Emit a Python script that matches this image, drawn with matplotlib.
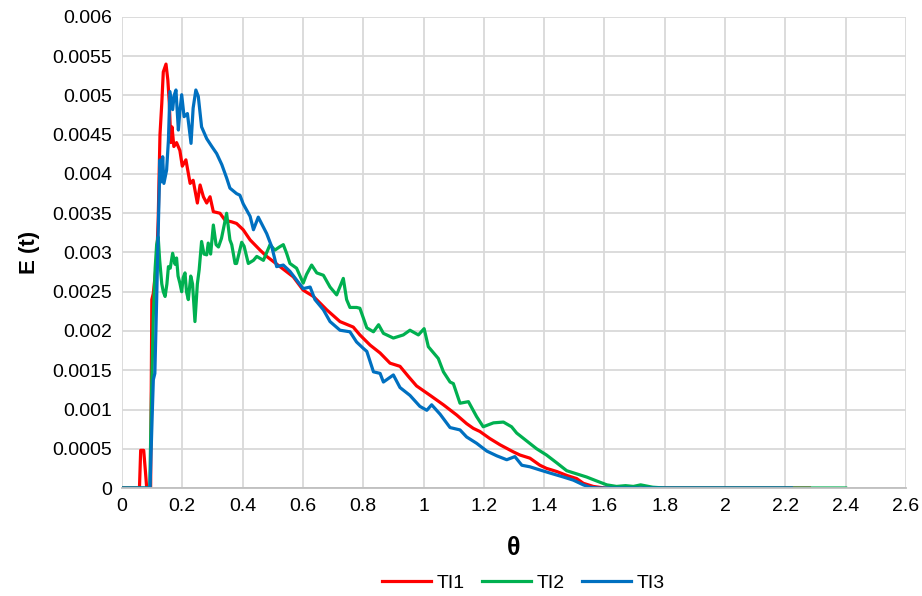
import matplotlib.pyplot as plt
from matplotlib.ticker import MultipleLocator, FuncFormatter

plt.rcParams['font.family'] = ['Liberation Sans', 'DejaVu Sans']

# TI1
x_ti1 = [0, 0.058, 0.062, 0.072, 0.078, 0.082, 0.095, 0.099, 0.104, 0.115, 0.12, 0.126,
         0.132, 0.137, 0.146, 0.152, 0.157, 0.162, 0.166, 0.172, 0.181, 0.192, 0.2, 0.212,
         0.226, 0.236, 0.25, 0.259, 0.27, 0.281, 0.292, 0.303, 0.325, 0.342, 0.364, 0.38,
         0.402, 0.425, 0.458, 0.48, 0.524, 0.568, 0.601, 0.635, 0.679, 0.723, 0.767, 0.789,
         0.823, 0.856, 0.889, 0.922, 0.95, 0.977, 1.022, 1.066, 1.11, 1.143, 1.165, 1.187,
         1.22, 1.254, 1.298, 1.32, 1.353, 1.386, 1.408, 1.442, 1.475, 1.508, 1.53, 1.563,
         1.6, 2.28]
y_ti1 = [0, 0, 0.00048, 0.00048, 0.0002, 0, 0, 0.0024, 0.00248, 0.0029, 0.0034, 0.0045,
         0.0049, 0.0053, 0.0054, 0.0052, 0.0049, 0.0044, 0.0046, 0.00435, 0.0044, 0.0043, 0.0041, 0.00418,
         0.00388, 0.00392, 0.00363, 0.00386, 0.00371, 0.00363, 0.00371, 0.00352, 0.0035, 0.00341, 0.00339, 0.00337,
         0.00329, 0.00316, 0.00303, 0.00295, 0.00282, 0.00269, 0.00252, 0.00244, 0.00227, 0.00212, 0.00205, 0.00195,
         0.00182, 0.00172, 0.00159, 0.00155, 0.00142, 0.0013, 0.00118, 0.00106, 0.00093, 0.00082, 0.00076, 0.00072,
         0.00063, 0.00055, 0.00046, 0.00042, 0.00038, 0.00029, 0.00025, 0.00021, 0.00016, 0.00012, 0.00006, 0.00002,
         0, 0]

# TI2
x_ti2 = [0, 0.092, 0.098, 0.104, 0.11, 0.115, 0.12, 0.125, 0.132, 0.137, 0.143, 0.149,
         0.154, 0.16, 0.168, 0.176, 0.181, 0.186, 0.192, 0.198, 0.203, 0.209, 0.214, 0.22,
         0.228, 0.234, 0.242, 0.25, 0.256, 0.264, 0.272, 0.281, 0.286, 0.294, 0.303, 0.312,
         0.32, 0.33, 0.347, 0.358, 0.364, 0.375, 0.38, 0.397, 0.405, 0.419, 0.436, 0.447,
         0.469, 0.491, 0.507, 0.522, 0.535, 0.546, 0.557, 0.579, 0.601, 0.612, 0.629, 0.646,
         0.668, 0.69, 0.712, 0.734, 0.745, 0.756, 0.778, 0.789, 0.812, 0.834, 0.851, 0.867,
         0.9, 0.933, 0.955, 0.983, 1.002, 1.016, 1.049, 1.066, 1.088, 1.099, 1.121, 1.149,
         1.176, 1.198, 1.232, 1.265, 1.292, 1.309, 1.342, 1.375, 1.408, 1.442, 1.475, 1.508,
         1.541, 1.574, 1.608, 1.64, 1.67, 1.696, 1.72, 1.76, 1.8, 2.4]
y_ti2 = [0, 0, 0.0012, 0.0022, 0.0028, 0.0031, 0.0032, 0.0029, 0.0026, 0.0025, 0.00244, 0.0026,
         0.00282, 0.0028, 0.00299, 0.00285, 0.00293, 0.0027, 0.00261, 0.0025, 0.00268, 0.00274, 0.0025, 0.0024,
         0.0027, 0.0026, 0.00212, 0.0026, 0.00278, 0.00314, 0.00298, 0.00297, 0.00312, 0.00298, 0.00335, 0.0031,
         0.00307, 0.00318, 0.0035, 0.00316, 0.0031, 0.00286, 0.00286, 0.00313, 0.00308, 0.00286, 0.0029, 0.00295,
         0.0029, 0.0031, 0.00303, 0.00307, 0.0031, 0.00299, 0.00286, 0.0028, 0.00261, 0.00272, 0.00284, 0.00274,
         0.00271, 0.00256, 0.00246, 0.00267, 0.0024, 0.0023, 0.0023, 0.00229, 0.00204, 0.00199, 0.00208, 0.00197,
         0.00191, 0.00195, 0.00201, 0.00195, 0.00203, 0.0018, 0.00165, 0.00148, 0.00135, 0.00133, 0.00108, 0.0011,
         0.00091, 0.00078, 0.00083, 0.00084, 0.00078, 0.0007, 0.0006, 0.0005, 0.00042, 0.00032, 0.00022, 0.00018,
         0.00014, 0.00009, 0.00004, 0.00002, 0.00003, 0.00002, 0.00004, 0.00001, 0, 0]

# TI3
x_ti3 = [0, 0.093, 0.1, 0.104, 0.109, 0.115, 0.12, 0.126, 0.131, 0.135, 0.139, 0.148,
         0.154, 0.159, 0.168, 0.173, 0.179, 0.187, 0.192, 0.198, 0.206, 0.217, 0.229, 0.236,
         0.245, 0.253, 0.264, 0.281, 0.298, 0.314, 0.331, 0.347, 0.358, 0.38, 0.391, 0.402,
         0.425, 0.436, 0.452, 0.48, 0.497, 0.513, 0.535, 0.557, 0.579, 0.601, 0.624, 0.64,
         0.668, 0.69, 0.723, 0.756, 0.778, 0.8, 0.812, 0.834, 0.856, 0.867, 0.9, 0.922,
         0.955, 0.988, 1.011, 1.027, 1.055, 1.088, 1.121, 1.143, 1.176, 1.21, 1.243, 1.276,
         1.303, 1.326, 1.353, 1.386, 1.42, 1.464, 1.497, 1.53, 1.552, 1.58, 2.22]
y_ti3 = [0, 0, 0.0009, 0.00138, 0.00146, 0.0024, 0.00325, 0.00418, 0.0039, 0.00422, 0.00388, 0.00405,
         0.00443, 0.00505, 0.00482, 0.005, 0.00507, 0.00456, 0.0048, 0.00501, 0.00473, 0.00477, 0.00439, 0.00484,
         0.00507, 0.00499, 0.0046, 0.00445, 0.00435, 0.00426, 0.00412, 0.00395, 0.00382, 0.00375, 0.00373, 0.00362,
         0.00346, 0.00329, 0.00345, 0.00324, 0.00307, 0.00282, 0.00284, 0.00276, 0.00265, 0.00254, 0.00256, 0.0024,
         0.00227, 0.00212, 0.00201, 0.00199, 0.00186, 0.00178, 0.00174, 0.00148, 0.00146, 0.00135, 0.00144, 0.00128,
         0.00118, 0.00104, 0.00099, 0.00106, 0.00094, 0.00077, 0.00074, 0.00065, 0.00057, 0.00047, 0.00041, 0.00036,
         0.0004, 0.00029, 0.00027, 0.00023, 0.00019, 0.00014, 0.0001, 0.00004, 0.00001, 0, 0]

fig = plt.figure(figsize=(9.22, 5.96), dpi=100)
ax = fig.add_axes([0.1323, 0.1812, 0.8503, 0.7903])

ax.plot(x_ti1, y_ti1, color='#FF0000', lw=2.3, label='TI1')
ax.plot(x_ti2, y_ti2, color='#00B050', lw=2.3, label='TI2')
ax.plot(x_ti3, y_ti3, color='#0070C0', lw=2.3, label='TI3')

ax.set_xlim(0, 2.6)
ax.set_ylim(0, 0.006)
ax.xaxis.set_major_locator(MultipleLocator(0.2))
ax.yaxis.set_major_locator(MultipleLocator(0.0005))
ax.xaxis.set_major_formatter(FuncFormatter(lambda v, p: '%g' % round(v, 4)))
ax.yaxis.set_major_formatter(FuncFormatter(lambda v, p: '%g' % round(v, 6)))
ax.tick_params(length=0, labelsize=14, pad=7)
ax.grid(True, color='#D9D9D9', lw=1.3)
ax.set_axisbelow(True)
for s in ['top', 'right', 'left']:
    ax.spines[s].set_visible(False)
ax.spines['bottom'].set_color('#BFBFBF')
ax.spines['bottom'].set_linewidth(1.3)

ax.set_xlabel('θ', fontsize=18, fontweight='bold', labelpad=15)
ax.set_ylabel('E (t)', fontsize=16, fontweight='bold', labelpad=9)

fig.legend(loc='lower center', bbox_to_anchor=(0.568, -0.022), ncol=3, frameon=False,
           fontsize=14, handlelength=2.5, handletextpad=0.3, columnspacing=0.9)

fig.savefig('out.png', dpi=100)
